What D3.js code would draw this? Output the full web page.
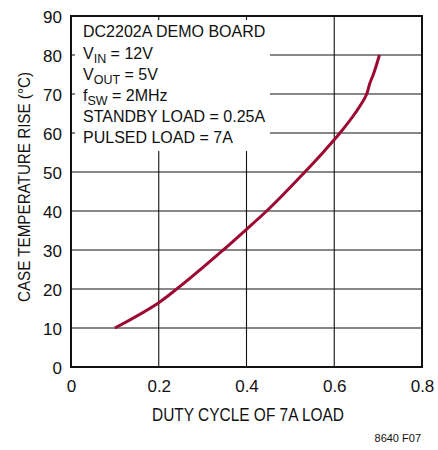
<!DOCTYPE html>
<html>
<head>
<meta charset="utf-8">
<script src="https://cdn.jsdelivr.net/npm/d3@7"></script>
<style>
  html, body { margin: 0; padding: 0; background: #fff; }
  svg { display: block; }
  text { font-family: "Liberation Sans Narrow", "Arial Narrow", "Liberation Sans", sans-serif; fill: #111; }
</style>
</head>
<body>
<svg id="chart" width="438" height="450"></svg>
<script>
// Case temperature rise vs duty cycle of the pulsed load
const dutyCycle = [0.10, 0.20, 0.241, 0.347, 0.40, 0.446, 0.533, 0.579, 0.613, 0.647, 0.674, 0.681, 0.689, 0.703];
const tempRise  = [10, 16.5, 20, 30, 35.3, 40, 50, 55.6, 60, 65, 70, 72.7, 75, 80];

const xTicks = [0, 0.2, 0.4, 0.6, 0.8];
const xTickLabels = ["0", "0.2", "0.4", "0.6", "0.8"];
const yTicks = [0, 10, 20, 30, 40, 50, 60, 70, 80, 90];

const xTitle = "DUTY CYCLE OF 7A LOAD";
const yTitle = "CASE TEMPERATURE RISE (°C)";
const figureId = "8640 F07";

const svg = d3.select("#chart");
const plotL = 71, plotR = 422, plotT = 16, plotB = 367;

const x = d3.scaleLinear().domain([0, 0.8]).range([plotL, plotR]);
const y = d3.scaleLinear().domain([0, 90]).range([plotB, plotT]);

// grid
const grid = svg.append("g").attr("stroke", "#111").attr("stroke-width", 1.1);
grid.selectAll("line.v").data(xTicks.slice(1, -1)).join("line")
  .attr("class", "v")
  .attr("x1", d => x(d)).attr("x2", d => x(d))
  .attr("y1", plotT).attr("y2", plotB);
grid.selectAll("line.h").data(yTicks.slice(1, -1)).join("line")
  .attr("class", "h")
  .attr("x1", plotL).attr("x2", plotR)
  .attr("y1", d => y(d)).attr("y2", d => y(d));

// white panel behind the operating conditions
svg.append("rect")
  .attr("x", plotL + 4).attr("y", plotT + 4)
  .attr("width", 195).attr("height", 131)
  .attr("fill", "#fff");

// frame
svg.append("rect")
  .attr("x", plotL).attr("y", plotT)
  .attr("width", plotR - plotL).attr("height", plotB - plotT)
  .attr("fill", "none").attr("stroke", "#111").attr("stroke-width", 2);

// curve
const pts = dutyCycle.map((d, i) => [d, tempRise[i]]);
svg.append("path")
  .datum(pts)
  .attr("fill", "none")
  .attr("stroke", "#9c0a32")
  .attr("stroke-width", 3)
  .attr("d", d3.line().x(d => x(d[0])).y(d => y(d[1])).curve(d3.curveMonotoneY));

// tick labels
const xAxis = d3.axisBottom(x).tickValues(xTicks).tickSize(0).tickPadding(0)
  .tickFormat((d, i) => xTickLabels[i]);
const gx = svg.append("g").attr("transform", `translate(0,${plotB})`).call(xAxis);
gx.select(".domain").remove();
gx.selectAll("text").attr("y", 25).attr("dy", null)
  .style("font-size", "17px")
  .style("font-family", '"Liberation Sans Narrow", sans-serif').attr("fill", "#111");

const yAxis = d3.axisLeft(y).tickValues(yTicks).tickSize(0).tickPadding(0);
const gy = svg.append("g").attr("transform", `translate(${plotL},0)`).call(yAxis);
gy.select(".domain").remove();
gy.selectAll("text").attr("x", -9).attr("dy", "0.36em")
  .style("font-size", "17px")
  .style("font-family", '"Liberation Sans Narrow", sans-serif').attr("fill", "#111");

// axis titles
svg.append("text")
  .attr("x", 152).attr("y", 420.5)
  .attr("font-size", 18)
  .attr("textLength", 192).attr("lengthAdjust", "spacingAndGlyphs")
  .text(xTitle);
svg.append("text")
  .attr("transform", "translate(30,302) rotate(-90)")
  .attr("font-size", 16.5)
  .attr("textLength", 230).attr("lengthAdjust", "spacingAndGlyphs")
  .text(yTitle);

svg.append("text")
  .attr("x", 421).attr("y", 442)
  .attr("text-anchor", "end").attr("font-size", 11)
  .text(figureId);

// operating conditions
const tx = 83;
function noteLine(yPos, parts) {
  const g = svg.append("text").attr("x", tx).attr("y", yPos).attr("font-size", 16);
  parts.forEach(p => {
    if (p.sub !== undefined) {
      g.append("tspan").attr("font-size", 12.5).attr("dy", 4).text(p.sub);
    } else {
      g.append("tspan").attr("dy", p.after ? -4 : 0).text(p.t);
    }
  });
}
noteLine(37, [{t: "DC2202A DEMO BOARD"}]);
noteLine(58.5, [{t: "V"}, {sub: "IN"}, {t: " = 12V", after: true}]);
noteLine(80, [{t: "V"}, {sub: "OUT"}, {t: " = 5V", after: true}]);
noteLine(101, [{t: "f"}, {sub: "SW"}, {t: " = 2MHz", after: true}]);
noteLine(122, [{t: "STANDBY LOAD = 0.25A"}]);
noteLine(143, [{t: "PULSED LOAD = 7A"}]);
</script>
</body>
</html>
